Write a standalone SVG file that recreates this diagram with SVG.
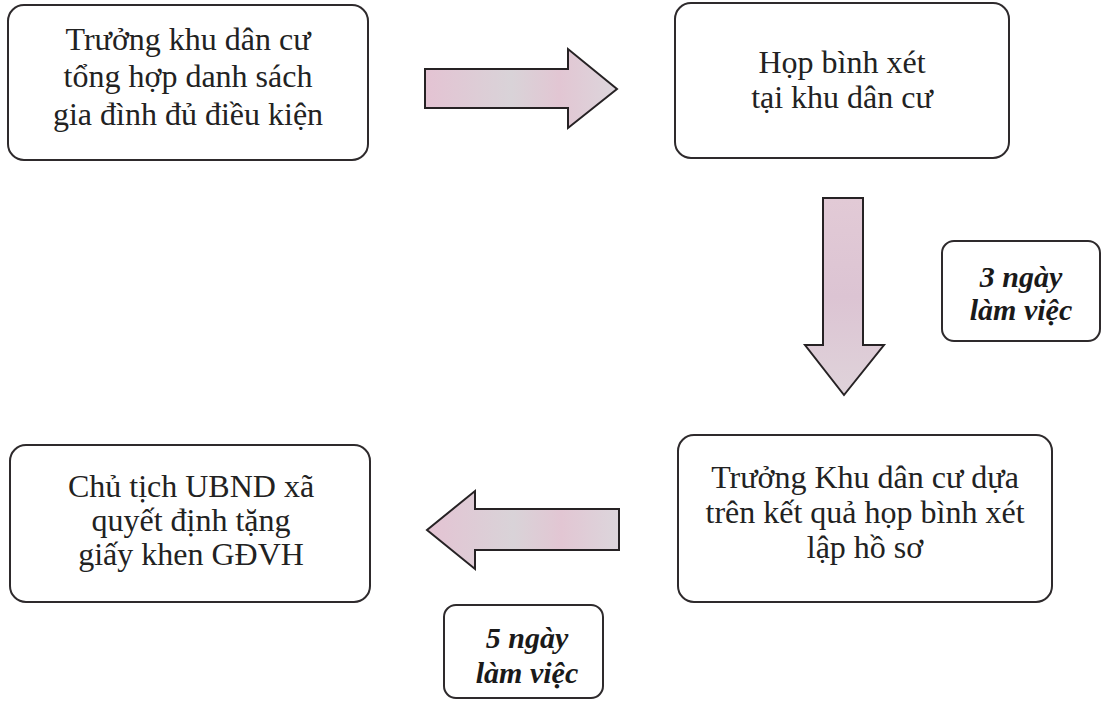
<svg xmlns="http://www.w3.org/2000/svg" width="1102" height="701" viewBox="0 0 1102 701">
<defs>
<linearGradient id="fillH" x1="0" y1="0" x2="1" y2="0">
<stop offset="0" stop-color="#e4c3d3"/>
<stop offset="0.45" stop-color="#d9d3d8"/>
<stop offset="0.7" stop-color="#e2c6d3"/>
<stop offset="1" stop-color="#dcd6dc"/>
</linearGradient>
<linearGradient id="fillV" x1="0" y1="0" x2="0" y2="1">
<stop offset="0" stop-color="#e2cad6"/>
<stop offset="0.5" stop-color="#dcc4d3"/>
<stop offset="1" stop-color="#dfd3da"/>
</linearGradient>
<style>
.box{fill:#ffffff;stroke:#2e2a2c;stroke-width:2}
.arrow{stroke:#262224;stroke-width:2;stroke-linejoin:miter}
.t{font-family:"Liberation Serif","Times New Roman",serif;font-size:32px;fill:#222;text-anchor:middle}
.lbl{font-family:"Liberation Serif","Times New Roman",serif;font-size:30px;font-weight:bold;font-style:italic;fill:#1a1a1a;text-anchor:middle}
</style>
</defs>
<rect width="1102" height="701" fill="#ffffff"/>

<g id="node-1">
<rect class="box" x="8" y="5" width="360" height="155" rx="16"/>
<text class="t" x="188" y="50">Trưởng khu dân cư</text>
<text class="t" x="188" y="87">tổng hợp danh sách</text>
<text class="t" x="188" y="125">gia đình đủ điều kiện</text>
</g>

<g id="node-2">
<rect class="box" x="675" y="3" width="334" height="155" rx="16"/>
<text class="t" x="842" y="73">Họp bình xét</text>
<text class="t" x="842" y="108">tại khu dân cư</text>
</g>

<g id="node-3">
<rect class="box" x="678" y="435" width="374" height="167" rx="16"/>
<text class="t" x="865" y="488">Trưởng Khu dân cư dựa</text>
<text class="t" x="865" y="523">trên kết quả họp bình xét</text>
<text class="t" x="865" y="558">lập hồ sơ</text>
</g>

<g id="node-4">
<rect class="box" x="10" y="445" width="360" height="157" rx="16"/>
<text class="t" x="191" y="497">Chủ tịch UBND xã</text>
<text class="t" x="191" y="531">quyết định tặng</text>
<text class="t" x="191" y="565">giấy khen GĐVH</text>
</g>

<g id="label-3days">
<rect class="box" x="942" y="241" width="158" height="100" rx="12"/>
<text class="lbl" x="1021" y="287">3 ngày</text>
<text class="lbl" x="1021" y="320">làm việc</text>
</g>

<g id="label-5days">
<rect class="box" x="444" y="605" width="159" height="93" rx="12"/>
<text class="lbl" x="527" y="648">5 ngày</text>
<text class="lbl" x="527" y="683">làm việc</text>
</g>

<g id="connectors">
<polygon class="arrow" fill="url(#fillH)" points="425,69 568,69 568,49 617,89 568,128 568,108 425,108"/>
<polygon class="arrow" fill="url(#fillV)" points="823,198 863,198 863,345 884,345 844,395 805,345 823,345"/>
<polygon class="arrow" fill="url(#fillH)" points="619,509 475,509 475,491 427,530 475,569 475,550 619,550"/>
</g>
</svg>
